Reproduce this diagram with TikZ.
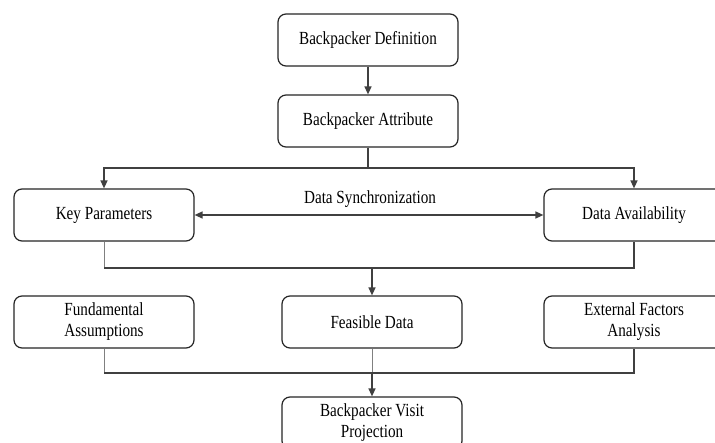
\documentclass[tikz,border=0pt]{standalone}
\usepackage{fontspec}
\setmainfont{Liberation Serif}[FakeStretch=0.82]
\usetikzlibrary{arrows.meta}
\begin{document}
\begin{tikzpicture}[x=1pt,y=-1pt,
  box/.style={draw=black!85,line width=1.2pt,rounded corners=8pt,minimum width=180pt,minimum height=52pt,inner sep=0pt,align=center,font=\fontsize{18.5}{21}\selectfont},
  conn/.style={draw=black!75,line width=1.4pt},
  thin/.style={draw=black!50,line width=1pt},
  arr/.style={conn,-{Triangle[length=8pt,width=7pt]}},
  darr/.style={conn,{Triangle[length=8pt,width=7pt]}-{Triangle[length=8pt,width=7pt]}},
  lbl/.style={font=\fontsize{18.5}{21}\selectfont,inner sep=0pt}]
\useasboundingbox (0,0) rectangle (715,443);
\clip (0,0) rectangle (715,443);
\fill[white] (0,0) rectangle (715,443);
\node[box] (BD) at (368,40) {Backpacker Definition};
\node[box] (BA) at (368,121) {Backpacker Attribute};
\node[box] (KP) at (104,215) {Key Parameters};
\node[box] (DA) at (634,215) {Data Availability};
\node[box] (FA) at (104,322) {Fundamental\\Assumptions};
\node[box] (FD) at (372,322) {Feasible Data};
\node[box] (EF) at (634,322) {External Factors\\Analysis};
\node[box] (BV) at (372,423) {Backpacker Visit\\Projection};
\node[lbl] (DS) at (370,199) {Data Synchronization};
\coordinate (j1) at (368,168);
\coordinate (j2) at (372,268);
\coordinate (j3) at (372,373);
\draw[arr] (BD) -- (BA);
\draw[conn] (BA.south) -- (j1);
\draw[arr] (j1) -| (KP.north);
\draw[arr] (j1) -| (DA.north);
\draw[darr] (KP) -- (DA);
\draw[thin] (KP.south) -- (KP.south |- j2);
\draw[conn] (KP.south |- j2) -- (DA.south |- j2) -- (DA.south);
\draw[arr] (j2) -- (FD.north);
\draw[thin] (FA.south) -- (FA.south |- j3);
\draw[thin] (FD.south) -- (j3);
\draw[conn] (FA.south |- j3) -- (EF.south |- j3) -- (EF.south);
\draw[arr] (j3) -- (BV.north);
\end{tikzpicture}
\end{document}
